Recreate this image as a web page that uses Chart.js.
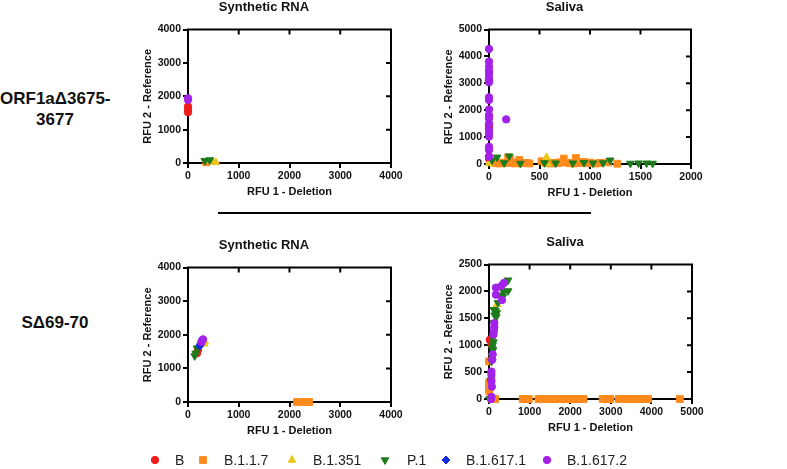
<!DOCTYPE html>
<html>
<head>
<meta charset="utf-8">
<script src="https://cdn.jsdelivr.net/npm/chart.js@4.4.0/dist/chart.umd.min.js"></script>
<style>
  body { margin: 0; background: #fff; }
  #fig { position: relative; width: 787px; height: 469px; overflow: hidden; font-family: "Liberation Sans", Arial, sans-serif; color: #111; }
  #fig canvas { position: absolute; }
  .rowLabel { position: absolute; left: 0; width: 110px; text-align: center; font-weight: bold; font-size: 17px; line-height: 21px; }
  .rule { position: absolute; left: 218px; top: 212px; width: 373px; height: 2px; background: #000; }
  .lgText { position: absolute; top: 451px; font-size: 14px; line-height: 18px; color: #222; white-space: nowrap; }
</style>
</head>
<body>
<div id="fig">
  <canvas id="orfSynth" width="274" height="203" style="left:137px;top:0px"></canvas>
  <canvas id="orfSaliva" width="273" height="204" style="left:438px;top:0px"></canvas>
  <canvas id="sSynth" width="274" height="204" style="left:137px;top:238px"></canvas>
  <canvas id="sSaliva" width="274" height="204" style="left:438px;top:235px"></canvas>
  <canvas id="legendMarks" width="787" height="20" style="left:0px;top:450px"></canvas>
  <div class="rowLabel" style="top:88px">ORF1aΔ3675-<br>3677</div>
  <div class="rowLabel" style="top:312px">SΔ69-70</div>
  <div class="rule"></div>
</div>
<script>
// variants, in legend order
const variants = ['B', 'B.1.1.7', 'B.1.351', 'P.1', 'B.1.617.1', 'B.1.617.2'];

// axis ticks
const synthTicks = [0, 1000, 2000, 3000, 4000];
const orfSalivaXTicks = [0, 500, 1000, 1500, 2000];
const orfSalivaYTicks = [0, 1000, 2000, 3000, 4000, 5000];
const sSalivaXTicks = [0, 1000, 2000, 3000, 4000, 5000];
const sSalivaYTicks = [0, 500, 1000, 1500, 2000, 2500];

// [RFU 1 - Deletion, RFU 2 - Reference] per variant, same order as variants
const orfSynthetic = [
  [[0, 1520], [0, 1600], [0, 1690]],
  [[360, 20]],
  [[490, 40], [550, 20]],
  [[330, 70], [430, 90]],
  [],
  [[0, 1900], [0, 1940]]
];

const orfSaliva = [
  [[0, 1390], [0, 1330], [0, 270], [0, 200]],
  [[40, 60], [70, 30], [100, 20], [130, 50], [160, 30], [190, 250], [210, 190], [230, 40], [260, 20],
   [290, 60], [300, 150], [330, 30], [370, 40], [400, 20], [520, 100], [560, 50], [610, 20], [640, 40],
   [680, 30], [700, 60], [740, 200], [770, 50], [800, 30], [840, 20], [860, 220], [880, 60], [910, 40],
   [940, 80], [980, 30], [1000, 50], [1060, 20], [1100, 40], [1180, 60], [1270, 10]],
  [[0, 20], [570, 250], [580, 10]],
  [[30, 140], [80, 250], [150, 40], [200, 290], [310, 20], [550, 40], [660, 30], [830, 30], [940, 50],
   [1030, 30], [1130, 40], [1200, 140], [1400, 20], [1480, 30], [1560, 30], [1620, 20]],
  [],
  [[0, 4280], [0, 3810], [0, 3620], [0, 3470], [0, 3350], [0, 3190], [0, 3100], [0, 3040], [0, 2480],
   [0, 2380], [0, 2030], [0, 1820], [0, 1700], [0, 1510], [0, 1270], [0, 1140], [0, 1020], [0, 640],
   [0, 520], [0, 270], [170, 1660]]
];

const sSynthetic = [
  [[177, 1450], [197, 1550]],
  [[2150, 0], [2290, 0], [2340, 0], [2390, 0]],
  [[310, 1730], [330, 1790]],
  [[132, 1370], [152, 1450], [177, 1600]],
  [[230, 1670], [245, 1720]],
  [[263, 1790], [280, 1830], [296, 1865]]
];

const sSaliva = [
  [[20, 1100], [60, 1010]],
  [[0, 700], [0, 300], [0, 250], [0, 180], [10, 140], [150, 0],
   [830, 0], [900, 0], [980, 0], [1220, 0], [1300, 0], [1400, 0], [1580, 0], [1630, 0], [1800, 0],
   [1870, 0], [1950, 0], [2030, 0], [2100, 0], [2180, 0], [2250, 0], [2330, 0], [2800, 0], [2900, 0],
   [2990, 0], [3200, 0], [3280, 0], [3380, 0], [3460, 0], [3550, 0], [3650, 0], [3750, 0], [3850, 0],
   [3920, 0], [4700, 0]],
  [[200, 1760], [75, 420]],
  [[470, 2210], [470, 2010], [360, 1990], [260, 1930], [340, 1900], [220, 1790], [120, 1660], [160, 1640],
   [190, 1600], [140, 1560], [180, 1530], [120, 1420], [100, 1140], [110, 1060], [90, 1000], [80, 940],
   [100, 910], [70, 800], [60, 700], [40, 350], [10, 0]],
  [],
  [[370, 2160], [300, 2100], [170, 2070], [170, 1940], [320, 1840], [130, 1410], [130, 1330], [120, 1260],
   [110, 1200], [90, 830], [80, 730], [60, 510], [60, 450], [60, 330], [70, 230], [60, 40], [50, 0]]
];

// marker looks
const variantColors = ['#f01c1c', '#ff8a1c', '#ecc51a', '#1c7c1c', '#1428e0', '#a322e8'];
const markerStyles = ['circle', 'rect', 'triangle', 'triangle', 'rectRot', 'circle'];
const markerRotation = [0, 0, 0, 180, 0, 0];
const markerRadius = [3.7, 4.8, 4.4, 4.4, 4, 3.7];

const FONT = '"Liberation Sans", Arial, sans-serif';

// top/right frame with inward ticks, like the Prism boxes
const boxFrame = {
  id: 'boxFrame',
  beforeDatasetsDraw(chart) {
    const { ctx, chartArea: a, scales } = chart;
    ctx.save();
    ctx.strokeStyle = '#000';
    ctx.lineWidth = 2;
    ctx.lineCap = 'square';
    ctx.beginPath();
    ctx.moveTo(a.left, a.top);
    ctx.lineTo(a.right, a.top);
    ctx.lineTo(a.right, a.bottom);
    scales.x.ticks.slice(1, -1).forEach(t => {
      const px = scales.x.getPixelForValue(t.value);
      ctx.moveTo(px, a.top);
      ctx.lineTo(px, a.top + 4);
    });
    scales.y.ticks.slice(1, -1).forEach(t => {
      const py = scales.y.getPixelForValue(t.value);
      ctx.moveTo(a.right, py);
      ctx.lineTo(a.right - 4, py);
    });
    ctx.stroke();
    ctx.restore();
  }
};

function axis(ticks, label, fit) {
  return {
    type: 'linear',
    min: ticks[0],
    max: ticks[ticks.length - 1],
    border: { color: '#000', width: 2 },
    grid: { drawOnChartArea: false, color: '#000', lineWidth: 2, tickLength: 5 },
    ticks: {
      stepSize: ticks[1] - ticks[0],
      autoSkip: false,
      maxRotation: 0,
      padding: 2,
      color: '#111',
      font: { family: FONT, size: 10.5, weight: 'bold' },
      callback: v => String(v)
    },
    title: {
      display: true,
      text: label,
      color: '#111',
      font: { family: FONT, size: 11, weight: 'bold' },
      padding: { top: 4, bottom: 4 }
    },
    afterFit: fit
  };
}

function makePanel(id, title, sets, xTicks, yTicks) {
  const datasets = sets.map((pts, i) => ({
    label: variants[i],
    data: pts.map(p => ({ x: p[0], y: p[1] })),
    backgroundColor: variantColors[i],
    borderColor: variantColors[i],
    borderWidth: 1,
    pointStyle: markerStyles[i],
    rotation: markerRotation[i],
    pointRadius: markerRadius[i],
    clip: false,
    order: sets.length - i
  }));

  new Chart(document.getElementById(id), {
    type: 'scatter',
    data: { datasets },
    options: {
      responsive: false,
      animation: false,
      layout: { padding: { right: 20 } },
      plugins: {
        legend: { display: false },
        tooltip: { enabled: false },
        title: {
          display: true,
          text: title,
          color: '#111',
          font: { family: FONT, size: 13, weight: 'bold' },
          padding: { top: 0, bottom: 14 }
        }
      },
      scales: {
        x: axis(xTicks, 'RFU 1 - Deletion', s => { s.height = 40; }),
        y: axis(yTicks, 'RFU 2 - Reference', s => { s.width = 51; })
      }
    },
    plugins: [boxFrame]
  });
}

makePanel('orfSynth', 'Synthetic RNA', orfSynthetic, synthTicks, synthTicks);
makePanel('orfSaliva', 'Saliva', orfSaliva, orfSalivaXTicks, orfSalivaYTicks);
makePanel('sSynth', 'Synthetic RNA', sSynthetic, synthTicks, synthTicks);
makePanel('sSaliva', 'Saliva', sSaliva, sSalivaXTicks, sSalivaYTicks);

// legend row: marker drawn with Chart's own point helper, label as text
const legendMarkX = [155, 203, 292, 385, 446, 547];
const legendTextX = [175, 224, 313, 407, 466, 567];
const lctx = document.getElementById('legendMarks').getContext('2d');
variants.forEach((name, i) => {
  lctx.fillStyle = variantColors[i];
  lctx.strokeStyle = variantColors[i];
  Chart.helpers.drawPoint(lctx, {
    pointStyle: markerStyles[i],
    rotation: markerRotation[i],
    radius: markerRadius[i],
    borderWidth: 1
  }, legendMarkX[i], 10);
  const span = document.createElement('div');
  span.className = 'lgText';
  span.style.left = legendTextX[i] + 'px';
  span.textContent = name;
  document.getElementById('fig').appendChild(span);
});
</script>
</body>
</html>
